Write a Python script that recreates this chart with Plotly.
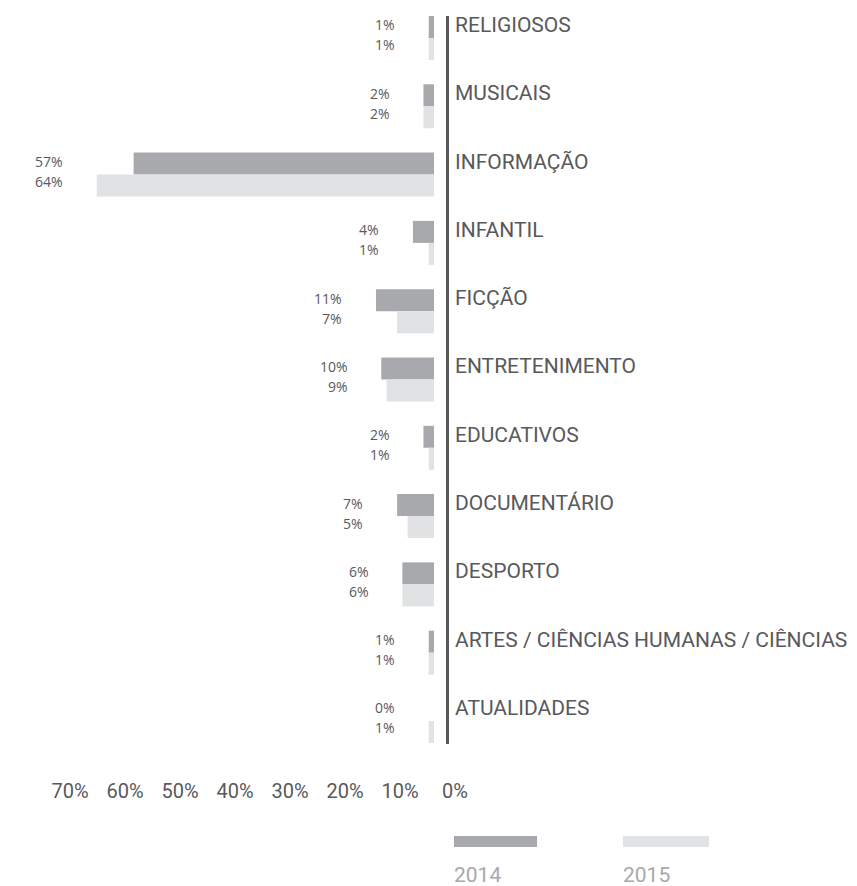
import plotly.graph_objects as go

# Tipos de programa (ordem de cima para baixo)
categories = [
    "RELIGIOSOS",
    "MUSICAIS",
    "INFORMAÇÃO",
    "INFANTIL",
    "FICÇÃO",
    "ENTRETENIMENTO",
    "EDUCATIVOS",
    "DOCUMENTÁRIO",
    "DESPORTO",
    "ARTES / CIÊNCIAS HUMANAS / CIÊNCIAS",
    "ATUALIDADES",
]
values_2014 = [1, 2, 57, 4, 11, 10, 2, 7, 6, 1, 0]
values_2015 = [1, 2, 64, 1, 7, 9, 1, 5, 6, 1, 1]
tick_values = [70, 60, 50, 40, 30, 20, 10, 0]
tick_labels = ["70%", "60%", "50%", "40%", "30%", "20%", "10%", "0%"]

# page is offset by the 8px body margin, so the figure is a bit smaller
OFF = 8
W, H = 857 - OFF, 886 - OFF
DARK = "#58595b"
C2014 = "#a7a9ac"
C2015 = "#e1e2e3"
FONT = "Roboto"


def px(x):
    return (x - OFF) / W


def py(y):
    return 1 - (y - OFF) / H


fig = go.Figure()

fig.add_trace(go.Bar(
    y=categories, x=values_2014, orientation="h", name="2014",
    marker=dict(color=C2014, line=dict(width=0)), showlegend=False,
))
fig.add_trace(go.Bar(
    y=categories, x=values_2015, orientation="h", name="2015",
    marker=dict(color=C2015, line=dict(width=0)), showlegend=False,
))

# invisible trace so the tick axis (x2) gets drawn
fig.add_trace(go.Scatter(
    x=[tick_values[0], tick_values[-1]], y=[categories[0], categories[0]],
    xaxis="x2", yaxis="y", mode="markers", marker=dict(opacity=0),
    hoverinfo="skip", showlegend=False,
))

# value labels, one column per category
annotations = []
for cat, a, b in zip(categories, values_2014, values_2015):
    xpos = max(a, b) + 6
    for val, shift in ((a, 13), (b, -7)):
        annotations.append(dict(
            x=xpos, y=cat, xref="x", yref="y", text=f"{val}%",
            xanchor="right", yanchor="middle", yshift=shift, showarrow=False,
            font=dict(family="Open Sans", size=14, color=DARK),
        ))
    # category name to the right of the axis line
    annotations.append(dict(
        x=px(453), y=cat, xref="paper", yref="y", text=cat,
        xanchor="left", yanchor="middle", yshift=13, showarrow=False,
        font=dict(family=FONT, size=21, color=DARK),
    ))

# legend (swatch on top, year below)
shapes = []
for name, color, x0, x1 in (("2014", C2014, 454, 537), ("2015", C2015, 623, 709)):
    shapes.append(dict(
        type="rect", xref="paper", yref="paper",
        x0=px(x0), x1=px(x1), y0=py(847), y1=py(836),
        fillcolor=color, line=dict(width=0),
    ))
    annotations.append(dict(
        x=px(x0 - 2), y=py(875), xref="paper", yref="paper", text=name,
        xanchor="left", yanchor="middle", showarrow=False,
        font=dict(family=FONT, size=21, color=C2014),
    ))

fig.update_layout(
    width=W, height=H,
    margin=dict(l=0, r=0, t=0, b=0),
    paper_bgcolor="white", plot_bgcolor="rgba(0,0,0,0)",
    barmode="group", bargap=0.356, bargroupgap=0,
    font=dict(family=FONT, color=DARK),
    xaxis=dict(
        domain=[0, px(434)], range=[(434 - OFF) / 5.27, 0],
        showgrid=False, zeroline=False, showline=False,
        showticklabels=False, fixedrange=True,
    ),
    xaxis2=dict(
        domain=[0, 1], range=[(455 - OFF) / 5.5, (455 - OFF - W) / 5.5],
        anchor="free", position=py(777),
        tickvals=tick_values, ticktext=tick_labels,
        tickfont=dict(family=FONT, size=20, color=DARK),
        showgrid=False, zeroline=False, showline=False, ticks="",
    ),
    yaxis=dict(
        domain=[py(744), py(16)],
        categoryorder="array", categoryarray=categories,
        range=[10.337, -0.322],
        anchor="free", position=px(447),
        showline=True, linecolor=DARK, linewidth=3,
        showticklabels=False, showgrid=False, zeroline=False, ticks="",
    ),
    shapes=shapes,
    annotations=annotations,
)

fig.write_html("out.html")
